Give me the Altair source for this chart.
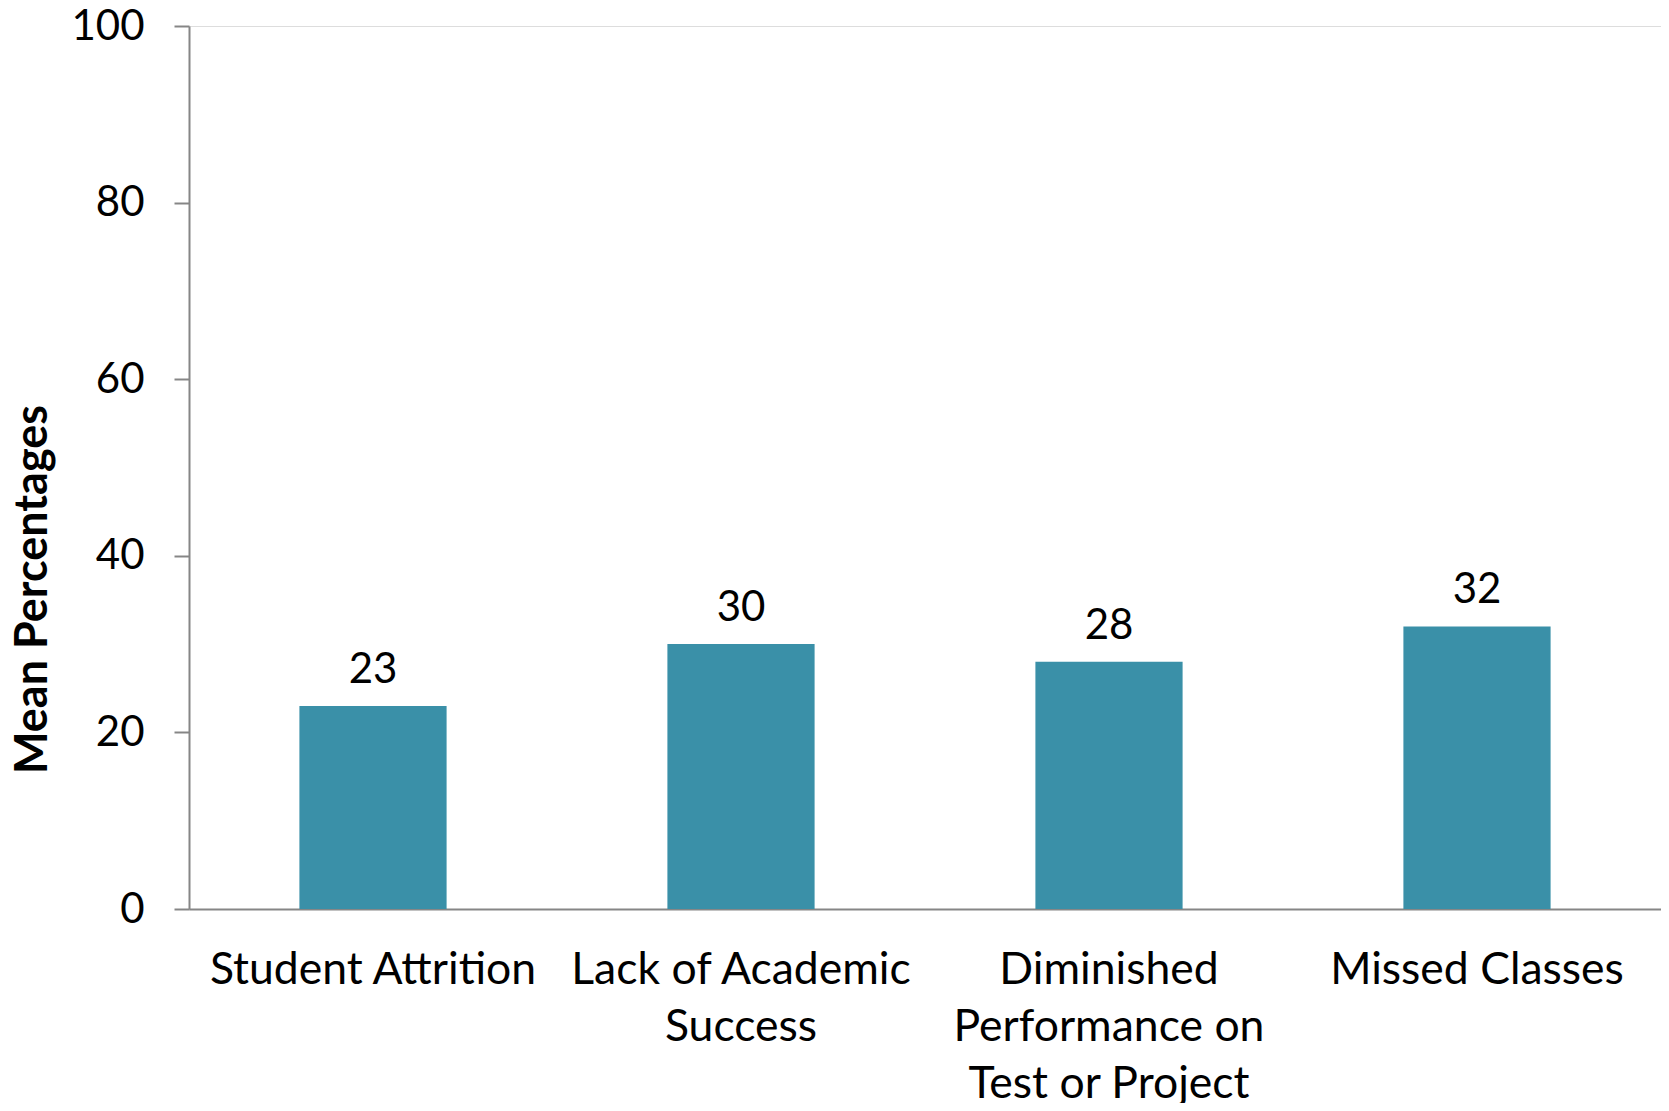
import altair as alt
import pandas as pd

categories = ["Student Attrition", "Lack of Academic Success",
              "Diminished Performance on Test or Project", "Missed Classes"]
label_lines = [["Student Attrition"], ["Lack of Academic", "Success"],
               ["Diminished", "Performance on", "Test or Project"], ["Missed Classes"]]
values = [23, 30, 28, 32]
y_ticks = [0, 20, 40, 60, 80, 100]

df = pd.DataFrame({"category": categories, "value": values})

mapping = ", ".join(
    "'" + c + "': [" + ", ".join("'" + l + "'" for l in lines) + "]"
    for c, lines in zip(categories, label_lines)
)
label_expr = "({" + mapping + "})[datum.label]"

FONT = "Lato"
BAR = "#3A90A8"
GREY = "#868686"

x = alt.X("category:N", sort=categories, title=None,
          scale=alt.Scale(paddingInner=0.6, paddingOuter=0.3),
          axis=alt.Axis(labelAngle=0, ticks=False, domainColor=GREY, domainWidth=2,
                        labelFont=FONT, labelFontSize=44.5, labelColor="black",
                        labelBaseline="top", labelPadding=39, labelLineHeight=57,
                        labelExpr=label_expr, labelLimit=0))

y = alt.Y("value:Q", title="Mean Percentages",
          scale=alt.Scale(domain=[0, 100], nice=False),
          axis=alt.Axis(values=y_ticks, grid=False, domainColor=GREY, domainWidth=2,
                        tickColor=GREY, tickSize=15, tickWidth=2,
                        labelFont=FONT, labelFontSize=42, labelColor="black",
                        labelPadding=30,
                        titleFont=FONT, titleFontSize=45, titleFontWeight="bold",
                        titleColor="black", titleAngle=270, titleX=-157, titleY=563,
                        titleAlign="center", titleBaseline="middle"))

bars = alt.Chart(df).mark_bar(color=BAR).encode(x=x, y=y)
text = alt.Chart(df).mark_text(font=FONT, fontSize=42, color="black",
                               baseline="alphabetic", dy=-23).encode(
    x=alt.X("category:N", sort=categories),
    y="value:Q", text="value:Q")

chart = (bars + text).properties(
    width=1472, height=883,
    autosize=alt.AutoSizeParams(type="none"),
    padding={"left": 181, "top": 18, "right": 0, "bottom": 194},
).configure_view(stroke=None).configure(background="white")

chart.save("out.html", embed_options={"renderer": "svg", "actions": False})
